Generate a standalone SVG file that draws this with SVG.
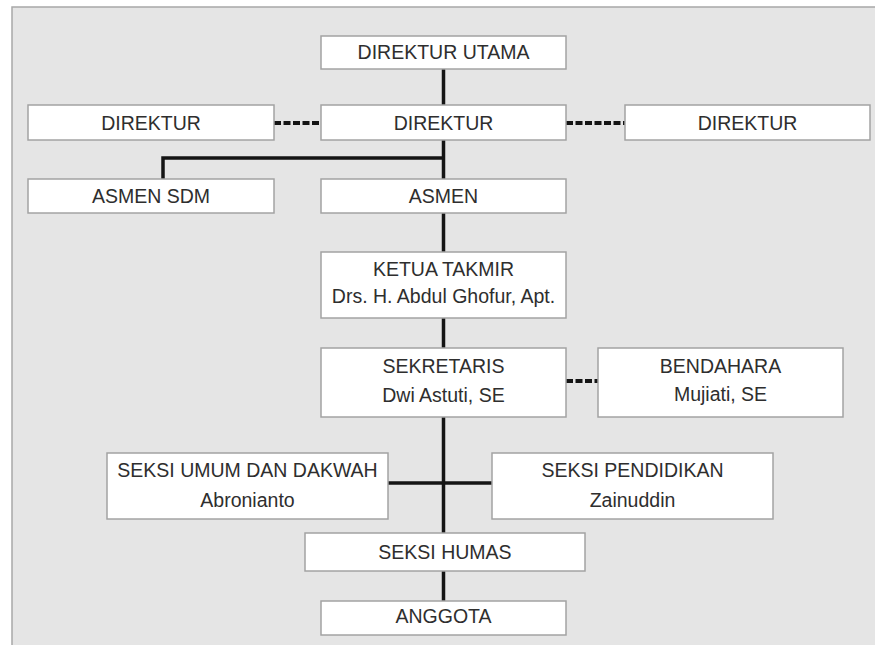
<svg xmlns="http://www.w3.org/2000/svg" width="875" height="645" viewBox="0 0 875 645">
  <style>
    .box { fill: #ffffff; stroke: #a3a3a3; stroke-width: 1.5; }
    .lbl { font-family: "Liberation Sans", Arial, sans-serif; font-size: 19.5px; fill: #2e2e2e; text-anchor: middle; }
    .solid { stroke: #141414; stroke-width: 3.5; fill: none; }
    .dash { stroke: #141414; stroke-width: 4; fill: none; stroke-dasharray: 7 2.5; }
  </style>
  <rect x="0" y="0" width="875" height="645" fill="#ffffff"/>
  <rect x="12" y="7" width="870" height="650" fill="#e5e5e5" stroke="#a8a8a8" stroke-width="1.5"/>

  <g id="connectors">
    <line class="solid" x1="443.5" y1="69" x2="443.5" y2="601"/>
    <polyline class="solid" points="443.5,158 163,158 163,179"/>
    <line class="solid" x1="388" y1="483" x2="492" y2="483"/>
    <line class="dash" x1="274" y1="123" x2="321" y2="123"/>
    <line class="dash" x1="566" y1="123" x2="625" y2="123"/>
    <line class="dash" x1="566" y1="381" x2="598" y2="381"/>
  </g>

  <g id="direktur-utama">
    <rect class="box" x="321" y="36" width="245" height="33"/>
    <text class="lbl" x="443.5" y="59">DIREKTUR UTAMA</text>
  </g>
  <g id="direktur-kiri">
    <rect class="box" x="28" y="105" width="246" height="35"/>
    <text class="lbl" x="151" y="130">DIREKTUR</text>
  </g>
  <g id="direktur-tengah">
    <rect class="box" x="321" y="105" width="245" height="35"/>
    <text class="lbl" x="443.5" y="130">DIREKTUR</text>
  </g>
  <g id="direktur-kanan">
    <rect class="box" x="625" y="105" width="245" height="35"/>
    <text class="lbl" x="747.5" y="130">DIREKTUR</text>
  </g>
  <g id="asmen-sdm">
    <rect class="box" x="28" y="179" width="246" height="34"/>
    <text class="lbl" x="151" y="203">ASMEN SDM</text>
  </g>
  <g id="asmen">
    <rect class="box" x="321" y="179" width="245" height="34"/>
    <text class="lbl" x="443.5" y="203">ASMEN</text>
  </g>
  <g id="ketua-takmir">
    <rect class="box" x="321" y="252" width="245" height="66"/>
    <text class="lbl" x="443.5" y="276">KETUA TAKMIR</text>
    <text class="lbl" x="443.5" y="303">Drs. H. Abdul Ghofur, Apt.</text>
  </g>
  <g id="sekretaris">
    <rect class="box" x="321" y="348" width="245" height="69"/>
    <text class="lbl" x="443.5" y="373">SEKRETARIS</text>
    <text class="lbl" x="443.5" y="402">Dwi Astuti, SE</text>
  </g>
  <g id="bendahara">
    <rect class="box" x="598" y="348" width="245" height="69"/>
    <text class="lbl" x="720.5" y="373">BENDAHARA</text>
    <text class="lbl" x="720.5" y="401">Mujiati, SE</text>
  </g>
  <g id="seksi-umum">
    <rect class="box" x="107" y="453" width="281" height="66"/>
    <text class="lbl" x="247.5" y="477">SEKSI UMUM DAN DAKWAH</text>
    <text class="lbl" x="247.5" y="507">Abronianto</text>
  </g>
  <g id="seksi-pendidikan">
    <rect class="box" x="492" y="453" width="281" height="66"/>
    <text class="lbl" x="632.5" y="477">SEKSI PENDIDIKAN</text>
    <text class="lbl" x="632.5" y="507">Zainuddin</text>
  </g>
  <g id="seksi-humas">
    <rect class="box" x="305" y="533" width="280" height="38"/>
    <text class="lbl" x="445" y="559">SEKSI HUMAS</text>
  </g>
  <g id="anggota">
    <rect class="box" x="321" y="601" width="245" height="34"/>
    <text class="lbl" x="443.5" y="623">ANGGOTA</text>
  </g>
</svg>
